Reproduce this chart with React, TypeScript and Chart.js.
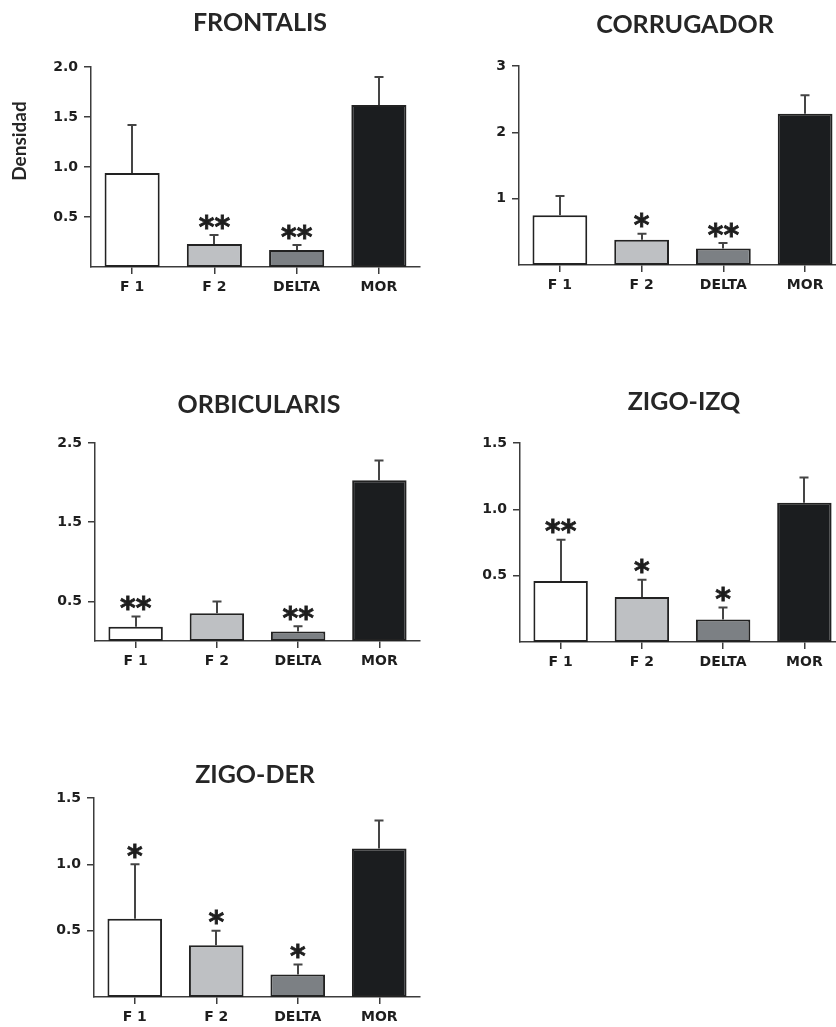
import React, { useEffect, useRef } from 'react';
import { Chart, registerables } from 'chart.js';

Chart.register(...registerables);

// ---------- data ----------
const categories = ['F 1', 'F 2', 'DELTA', 'MOR'];

const frontalisValues = [0.94, 0.23, 0.17, 1.62];
const frontalisErrors = [0.48, 0.09, 0.05, 0.28];
const frontalisStars = ['', '**', '**', ''];
const frontalisTicks = [0.5, 1.0, 1.5, 2.0];
const frontalisTickLabels = ['0.5', '1.0', '1.5', '2.0'];

const corrugadorValues = [0.75, 0.38, 0.25, 2.28];
const corrugadorErrors = [0.29, 0.09, 0.08, 0.28];
const corrugadorStars = ['', '*', '**', ''];
const corrugadorTicks = [1, 2, 3];
const corrugadorTickLabels = ['1', '2', '3'];

const orbicularisValues = [0.18, 0.35, 0.12, 2.03];
const orbicularisErrors = [0.13, 0.15, 0.065, 0.25];
const orbicularisStars = ['**', '', '**', ''];
const orbicularisTicks = [0.5, 1.5, 2.5];
const orbicularisTickLabels = ['0.5', '1.5', '2.5'];

const zigoIzqValues = [0.46, 0.34, 0.17, 1.05];
const zigoIzqErrors = [0.31, 0.13, 0.09, 0.19];
const zigoIzqStars = ['**', '*', '*', ''];
const zigoIzqTicks = [0.5, 1.0, 1.5];
const zigoIzqTickLabels = ['0.5', '1.0', '1.5'];

const zigoDerValues = [0.59, 0.39, 0.17, 1.12];
const zigoDerErrors = [0.41, 0.11, 0.075, 0.21];
const zigoDerStars = ['*', '*', '*', ''];
const zigoDerTicks = [0.5, 1.0, 1.5];
const zigoDerTickLabels = ['0.5', '1.0', '1.5'];

// ---------- styles ----------
const barColors = ['#ffffff', '#bec0c3', '#7c8084', '#1b1d1f'];
const TEXT = '#1e1e1e';
const AXIS = '#3c3c3c';

type PanelDef = {
  title: string;
  values: number[];
  errors: number[];
  stars: string[];
  ticks: number[];
  tickLabels: string[];
  max: number;
  yTitle?: string;
  areaLeft: number;
  areaRight: number;
  areaTop: number;
  areaBottom: number;
  canvasLeft: number;
  titleX: number;
  titleY: number;
};

const panels: PanelDef[] = [
  {
    title: 'FRONTALIS', values: frontalisValues, errors: frontalisErrors, stars: frontalisStars,
    ticks: frontalisTicks, tickLabels: frontalisTickLabels, max: 2.0, yTitle: 'Densidad',
    areaLeft: 91, areaRight: 420, areaTop: 67, areaBottom: 267, canvasLeft: 0, titleX: 260, titleY: 22,
  },
  {
    title: 'CORRUGADOR', values: corrugadorValues, errors: corrugadorErrors, stars: corrugadorStars,
    ticks: corrugadorTicks, tickLabels: corrugadorTickLabels, max: 3,
    areaLeft: 519, areaRight: 846, areaTop: 66, areaBottom: 265, canvasLeft: 430, titleX: 685, titleY: 24,
  },
  {
    title: 'ORBICULARIS', values: orbicularisValues, errors: orbicularisErrors, stars: orbicularisStars,
    ticks: orbicularisTicks, tickLabels: orbicularisTickLabels, max: 2.5,
    areaLeft: 95, areaRight: 420, areaTop: 443, areaBottom: 641, canvasLeft: 0, titleX: 259, titleY: 404,
  },
  {
    title: 'ZIGO-IZQ', values: zigoIzqValues, errors: zigoIzqErrors, stars: zigoIzqStars,
    ticks: zigoIzqTicks, tickLabels: zigoIzqTickLabels, max: 1.5,
    areaLeft: 520, areaRight: 845, areaTop: 443, areaBottom: 642, canvasLeft: 430, titleX: 684, titleY: 403,
  },
  {
    title: 'ZIGO-DER', values: zigoDerValues, errors: zigoDerErrors, stars: zigoDerStars,
    ticks: zigoDerTicks, tickLabels: zigoDerTickLabels, max: 1.5,
    areaLeft: 94, areaRight: 420, areaTop: 798, areaBottom: 997, canvasLeft: 0, titleX: 255, titleY: 774,
  },
];

const PAD_TOP = 60;
const XH = 40;
const PAD_RIGHT = 2;

function drawCentered(ctx: CanvasRenderingContext2D, text: string, x: number, cy: number) {
  ctx.textAlign = 'center';
  ctx.textBaseline = 'alphabetic';
  const m = ctx.measureText(text);
  const y = cy + (m.actualBoundingBoxAscent - m.actualBoundingBoxDescent) / 2;
  ctx.fillText(text, x, y);
}

function PanelChart({ p }: { p: PanelDef }) {
  const ref = useRef<HTMLCanvasElement | null>(null);
  const canvasTop = p.areaTop - PAD_TOP;
  const W = p.areaRight + PAD_RIGHT - p.canvasLeft;
  const H = PAD_TOP + (p.areaBottom - p.areaTop) + XH;
  const yw = p.areaLeft - p.canvasLeft;

  useEffect(() => {
    if (!ref.current) return;
    const overlay = {
      id: 'overlay',
      afterDraw(chart: any) {
        const ctx: CanvasRenderingContext2D = chart.ctx;
        const ys = chart.scales.y;
        const meta = chart.getDatasetMeta(0);
        ctx.save();
        // error bars
        ctx.strokeStyle = '#454545';
        ctx.lineWidth = 2;
        meta.data.forEach((bar: any, i: number) => {
          const x = Math.round(bar.x);
          const yTop = ys.getPixelForValue(p.values[i]);
          const yErr = ys.getPixelForValue(p.values[i] + p.errors[i]);
          ctx.beginPath();
          ctx.moveTo(x, yTop);
          ctx.lineTo(x, yErr);
          ctx.moveTo(x - 4.5, yErr);
          ctx.lineTo(x + 4.5, yErr);
          ctx.stroke();
        });
        // stars
        ctx.fillStyle = TEXT;
        ctx.strokeStyle = TEXT;
        ctx.lineWidth = 0.8;
        ctx.font = 'bold 30px "DejaVu Sans"';
        meta.data.forEach((bar: any, i: number) => {
          const s = p.stars[i];
          if (!s) return;
          const yErr = ys.getPixelForValue(p.values[i] + p.errors[i]);
          ctx.textAlign = 'center';
          ctx.textBaseline = 'alphabetic';
          const m = ctx.measureText(s);
          const cy = yErr - 13;
          const y = cy + (m.actualBoundingBoxAscent - m.actualBoundingBoxDescent) / 2;
          ctx.fillText(s, bar.x, y);
          ctx.strokeText(s, bar.x, y);
        });
        // title
        ctx.fillStyle = '#262626';
        ctx.font = 'bold 25px Lato';
        drawCentered(ctx, p.title, p.titleX - p.canvasLeft, p.titleY - canvasTop);
        // y title
        if (p.yTitle) {
          ctx.save();
          ctx.translate(19 - p.canvasLeft, 141 - canvasTop);
          ctx.rotate(-Math.PI / 2);
          ctx.fillStyle = '#262626';
          ctx.font = 'bold 19px Lato';
          drawCentered(ctx, p.yTitle, 0, 0);
          ctx.restore();
        }
        ctx.restore();
      },
    };

    const chart = new Chart(ref.current, {
      type: 'bar',
      data: {
        labels: categories,
        datasets: [
          {
            data: p.values,
            backgroundColor: barColors,
            borderColor: '#222222',
            borderWidth: 2,
            borderSkipped: false,
            categoryPercentage: 1,
            barPercentage: 0.67,
          },
        ],
      },
      options: {
        responsive: false,
        animation: false,
        devicePixelRatio: 1,
        layout: { padding: { top: PAD_TOP, left: 0, right: PAD_RIGHT, bottom: 0 } },
        plugins: {
          legend: { display: false },
          tooltip: { enabled: false },
          title: { display: false },
        },
        scales: {
          x: {
            offset: true,
            grid: {
              display: true,
              drawOnChartArea: false,
              drawTicks: true,
              tickLength: 7,
              offset: false,
              color: AXIS,
              lineWidth: 1.5,
            },
            border: { display: true, color: AXIS, width: 1.5 },
            ticks: {
              color: TEXT,
              font: { family: '"DejaVu Sans"', weight: 'bold', size: 14 },
              padding: 5,
              maxRotation: 0,
              autoSkip: false,
            },
            afterFit(scale: any) {
              scale.height = XH;
            },
          },
          y: {
            min: 0,
            max: p.max,
            grid: {
              display: true,
              drawOnChartArea: false,
              drawTicks: true,
              tickLength: 7,
              color: AXIS,
              lineWidth: 1.5,
            },
            border: { display: true, color: AXIS, width: 1.5 },
            ticks: {
              color: TEXT,
              font: { family: '"DejaVu Sans"', weight: 'bold', size: 14 },
              padding: 6,
              callback: (_v: any, i: number) => p.tickLabels[i],
            },
            afterBuildTicks(scale: any) {
              scale.ticks = p.ticks.map((v) => ({ value: v }));
            },
            afterFit(scale: any) {
              scale.width = yw;
            },
          },
        },
      },
      plugins: [overlay],
    } as any);
    return () => chart.destroy();
  }, []);

  return (
    <canvas
      ref={ref}
      width={W}
      height={H}
      style={{ position: 'absolute', left: p.canvasLeft, top: canvasTop, width: W, height: H }}
    />
  );
}

export default function App() {
  return (
    <div
      style={{
        position: 'fixed',
        left: 0,
        top: 0,
        width: 836,
        height: 1027,
        overflow: 'hidden',
        background: '#ffffff',
      }}
    >
      {panels.map((p) => (
        <PanelChart key={p.title} p={p} />
      ))}
    </div>
  );
}
